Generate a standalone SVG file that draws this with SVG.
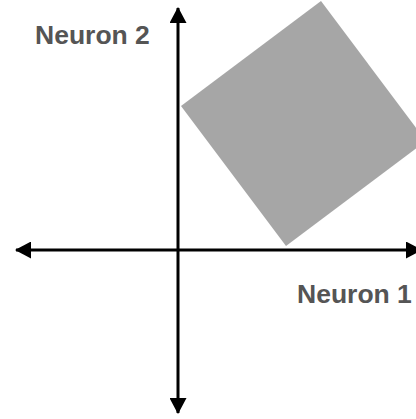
<svg xmlns="http://www.w3.org/2000/svg" width="416" height="419" viewBox="0 0 416 419">
  <style>
    .axis { stroke: #000; stroke-width: 3; fill: none; }
    .label { font-family: "Liberation Sans", Arial, sans-serif; font-weight: bold; font-size: 26.5px; fill: #555; }
  </style>
  <defs>
    <marker id="ah" markerUnits="userSpaceOnUse" markerWidth="17" markerHeight="17" viewBox="0 0 16 17" refX="15" refY="8.5" orient="auto-start-reverse">
      <path d="M0,0 L16,8.5 L0,17 Z" fill="#000"/>
    </marker>
  </defs>
  <rect width="416" height="419" fill="#fff"/>
  <g id="region">
    <polygon points="181,106 321,1 426,141 286,246" fill="#a6a6a6"/>
  </g>
  <g id="connectors">
    <line class="axis" x1="178" y1="413" x2="178" y2="8" marker-start="url(#ah)" marker-end="url(#ah)"/>
    <line class="axis" x1="16" y1="250" x2="421" y2="250" marker-start="url(#ah)" marker-end="url(#ah)"/>
  </g>
  <g id="label-neuron2">
    <text class="label" x="35" y="44">Neuron 2</text>
  </g>
  <g id="label-neuron1">
    <text class="label" x="297" y="303">Neuron 1</text>
  </g>
</svg>
